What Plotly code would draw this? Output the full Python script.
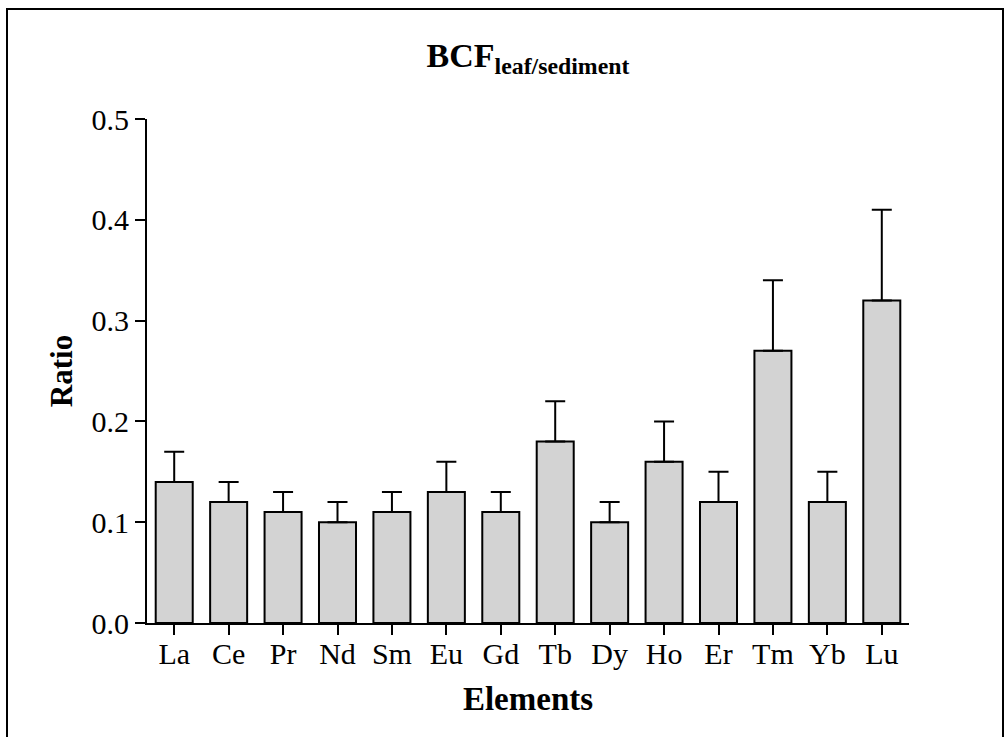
import plotly.graph_objects as go

elements = ["La", "Ce", "Pr", "Nd", "Sm", "Eu", "Gd", "Tb", "Dy", "Ho", "Er", "Tm", "Yb", "Lu"]
ratio = [0.14, 0.12, 0.11, 0.10, 0.11, 0.13, 0.11, 0.18, 0.10, 0.16, 0.12, 0.27, 0.12, 0.32]
err_up = [0.03, 0.02, 0.02, 0.02, 0.02, 0.03, 0.02, 0.04, 0.02, 0.04, 0.03, 0.07, 0.03, 0.09]
y_ticks = [0.0, 0.1, 0.2, 0.3, 0.4, 0.5]

FONT = "Liberation Serif"

fig = go.Figure()
fig.add_trace(go.Bar(
    x=list(range(len(elements))),
    y=ratio,
    width=0.68,
    marker=dict(color="#d3d3d3", line=dict(color="black", width=2)),
    error_y=dict(type="data", array=err_up, arrayminus=[0] * len(err_up),
                 symmetric=False, color="black", thickness=2, width=10),
    showlegend=False,
))

W, H = 1007, 737
L, R, T, B = 147, 98, 119, 114
pw, ph = W - L - R, H - T - B

def px(xp):
    return (xp - L) / pw

def py(yp):
    return (H - B - yp) / ph

fig.update_layout(
    width=W, height=H,
    margin=dict(l=L, r=R, t=T, b=B),
    paper_bgcolor="white", plot_bgcolor="white",
    font=dict(family=FONT, color="black", size=30),
    title=dict(text="<b>BCF<sub>leaf/sediment</sub></b>", x=px(528), xanchor="center",
               xref="paper", y=1 - 55 / H, yanchor="middle", yref="container",
               font=dict(family=FONT, size=34, color="black")),
    xaxis=dict(
        range=[-0.5, 13.5], tickmode="array", tickvals=list(range(len(elements))),
        ticktext=elements, showline=True, linecolor="black", linewidth=2,
        ticks="outside", ticklen=10, tickwidth=2, tickcolor="black",
        showgrid=False, zeroline=False, ticklabelstandoff=-7,
        tickfont=dict(family=FONT, size=30),
        title=dict(text="<b>Elements</b>", font=dict(family=FONT, size=33), standoff=18),
    ),
    yaxis=dict(
        range=[0, 0.5], tickmode="array", tickvals=y_ticks,
        ticktext=[f"{v:.1f}" for v in y_ticks],
        showline=True, linecolor="black", linewidth=2,
        ticks="outside", ticklen=10, tickwidth=2, tickcolor="black",
        showgrid=False, zeroline=False,
        tickfont=dict(family=FONT, size=30),
        title=dict(text="<b>Ratio</b>", font=dict(family=FONT, size=31), standoff=10),
    ),
    shapes=[dict(type="rect", xref="paper", yref="paper",
                 x0=px(7), x1=px(1003), y0=py(760), y1=py(9),
                 line=dict(color="black", width=2), fillcolor="rgba(0,0,0,0)",
                 layer="below")],
)

fig.write_html("out.html", config={"displayModeBar": False},
               post_script="document.body.style.margin='0';document.body.style.padding='0';document.body.style.overflow='hidden';")
